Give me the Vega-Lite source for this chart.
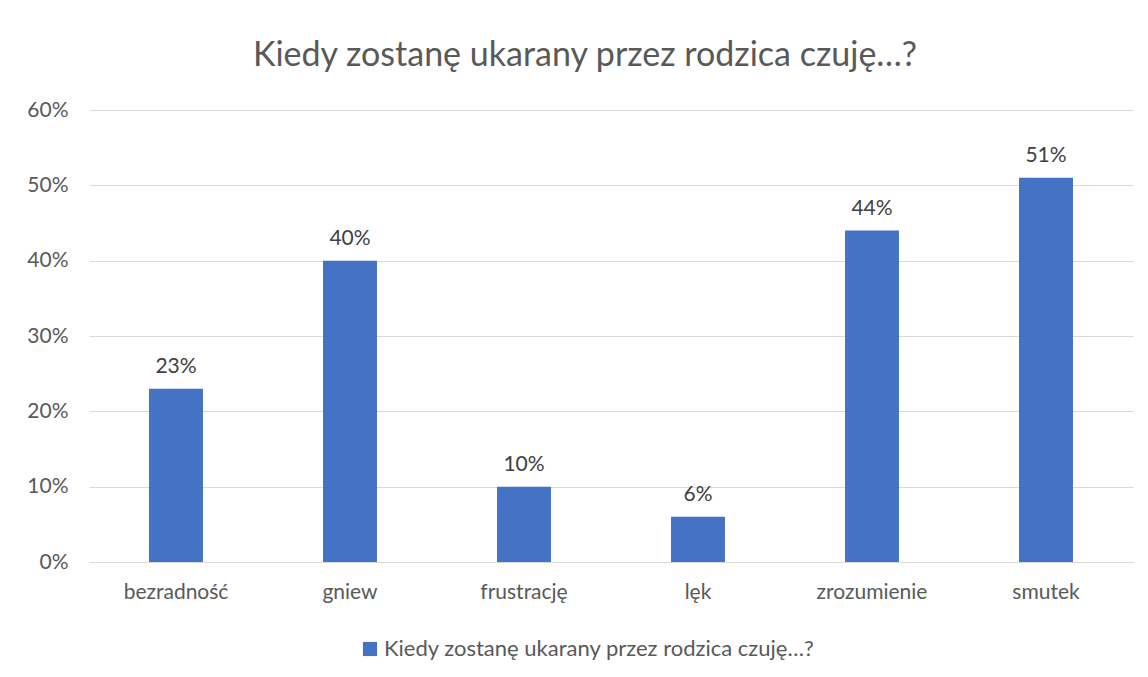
{
  "$schema": "https://vega.github.io/schema/vega-lite/v6.json",
  "autosize": {"type": "none"},
  "width": 1044,
  "height": 452,
  "padding": {"left": 89, "top": 110, "right": 15, "bottom": 115},
  "background": "white",
  "title": {
    "text": "Kiedy zostanę ukarany przez rodzica czuję…?",
    "font": "Lato",
    "fontSize": 34,
    "fontWeight": "normal",
    "color": "#595959",
    "anchor": "middle",
    "dx": -26,
    "offset": 26
  },
  "data": {
    "values": [
      {"kategoria": "bezradność", "wartosc": 0.23},
      {"kategoria": "gniew", "wartosc": 0.40},
      {"kategoria": "frustrację", "wartosc": 0.10},
      {"kategoria": "lęk", "wartosc": 0.06},
      {"kategoria": "zrozumienie", "wartosc": 0.44},
      {"kategoria": "smutek", "wartosc": 0.51}
    ]
  },
  "encoding": {
    "x": {
      "field": "kategoria",
      "type": "nominal",
      "sort": null,
      "scale": {"paddingInner": 0.69, "paddingOuter": 0.345},
      "axis": {
        "title": null,
        "labelAngle": 0,
        "labelFont": "Lato",
        "labelFontSize": 21,
        "labelColor": "#595959",
        "labelBaseline": "alphabetic",
        "labelPadding": 36,
        "ticks": false,
        "domain": true,
        "domainColor": "#d9d9d9"
      }
    },
    "y": {
      "field": "wartosc",
      "type": "quantitative",
      "scale": {"domain": [0, 0.6], "nice": false},
      "axis": {
        "title": null,
        "format": ".0%",
        "values": [0, 0.1, 0.2, 0.3, 0.4, 0.5, 0.6],
        "labelFont": "Lato",
        "labelFontSize": 21,
        "labelColor": "#595959",
        "labelPadding": 21,
        "ticks": false,
        "domain": false,
        "grid": true,
        "gridColor": "#d9d9d9",
        "gridWidth": 1
      }
    }
  },
  "layer": [
    {
      "mark": {"type": "bar", "color": "#4472C4"},
      "encoding": {
        "color": {
          "datum": "Kiedy zostanę ukarany przez rodzica czuję…?",
          "type": "nominal",
          "scale": {"range": ["#4472C4"]},
          "legend": {
            "title": null,
            "orient": "none",
            "legendX": 270,
            "legendY": 528,
            "symbolType": "square",
            "symbolSize": 200,
            "symbolStrokeWidth": 0,
            "symbolOpacity": 1,
            "labelFont": "Lato",
            "labelFontSize": 22,
            "labelColor": "#595959",
            "labelOffset": 3,
            "labelLimit": 700
          }
        }
      }
    },
    {
      "mark": {
        "type": "text",
        "baseline": "alphabetic",
        "dy": -16,
        "font": "Lato",
        "fontSize": 21,
        "color": "#404040"
      },
      "encoding": {
        "text": {"field": "wartosc", "type": "quantitative", "format": ".0%"}
      }
    }
  ],
  "config": {
    "view": {"stroke": null}
  }
}
